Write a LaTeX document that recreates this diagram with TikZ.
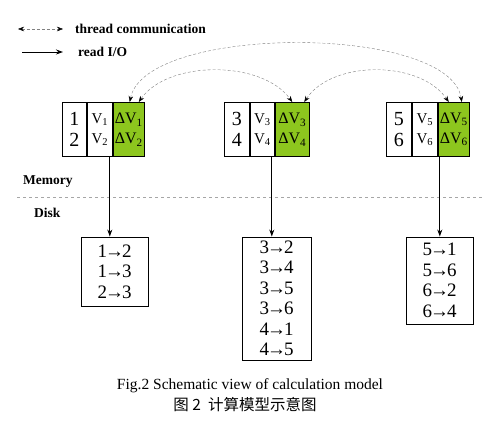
\documentclass[tikz,border=0pt]{standalone}
\usepackage{fontspec}
\setmainfont{Liberation Serif}
\newfontfamily\cjk{Noto Sans CJK SC}
\usetikzlibrary{arrows.meta}
\definecolor{cellgreen}{RGB}{141,198,30}
\newcommand{\fsz}[2]{\fontsize{#1}{#2}\selectfont}
\newcommand{\edgeto}[2]{#1\kern-2pt→\kern-2pt#2}
\tikzstyle{cell} = [draw, line width=0.9pt, minimum height=54, inner sep=0pt, align=center]
\tikzstyle{diskbox} = [draw, line width=0.9pt, inner sep=0pt, align=center, font=\fsz{19}{20.5}]
\tikzstyle{readio} = [line width=0.9pt, -{Stealth[length=7pt,width=5pt]}]
\tikzstyle{comm} = [gray, densely dashed, {Stealth[black,length=6pt,width=4.5pt]}-{Stealth[black,length=6pt,width=4.5pt]}]
\tikzstyle{lbl} = [anchor=west, inner sep=0pt, font=\fsz{13.5}{14}\bfseries]

\begin{document}
\begin{tikzpicture}[x=1pt, y=-1pt]

        \useasboundingbox (0,0) rectangle (493,435);

        % Legend: thread communication
        \coordinate (tc1) at (18,29);
        \coordinate (tc2) at (63,29);
        \draw[comm] (tc1) -- (tc2);
        \node[lbl] (tclab) at (75,29) {thread communication};

        % Legend: read I/O
        \coordinate (io1) at (22,52);
        \coordinate (io2) at (63,52);
        \draw[readio] (io1) -- (io2);
        \node[lbl] (iolab) at (78,52) {read I/O};

        % Memory block of thread 1
        \node[cell, minimum width=24, anchor=north west, font=\fsz{20}{21}] (n1) at (62,102) {1\\2};
        \node[cell, minimum width=25, anchor=west, font=\fsz{15}{20}] (v1) at (n1.east) {V\textsubscript{1}\\V\textsubscript{2}};
        \node[cell, minimum width=31, anchor=west, fill=cellgreen, font=\fsz{16}{20}] (g1) at (v1.east) {ΔV\textsubscript{1}\\ΔV\textsubscript{2}};

        % Memory block of thread 2
        \node[cell, minimum width=25, anchor=north west, font=\fsz{20}{21}] (n2) at (224,102) {3\\4};
        \node[cell, minimum width=24, anchor=west, font=\fsz{15}{20}] (v2) at (n2.east) {V\textsubscript{3}\\V\textsubscript{4}};
        \node[cell, minimum width=34, anchor=west, fill=cellgreen, font=\fsz{16}{20}] (g2) at (v2.east) {ΔV\textsubscript{3}\\ΔV\textsubscript{4}};

        % Memory block of thread 3
        \node[cell, minimum width=25, anchor=north west, font=\fsz{20}{21}] (n3) at (386,102) {5\\6};
        \node[cell, minimum width=25, anchor=west, font=\fsz{15}{20}] (v3) at (n3.east) {V\textsubscript{5}\\V\textsubscript{6}};
        \node[cell, minimum width=31, anchor=west, fill=cellgreen, font=\fsz{16}{20}] (g3) at (v3.east) {ΔV\textsubscript{5}\\ΔV\textsubscript{6}};

        % Thread communication between the delta cells
        \draw[comm] ([xshift=1pt]g1.north) .. controls (145,24) and (450,24) .. ([xshift=8pt]g3.north);   % 1 <-> 3
        \draw[comm] ([xshift=10pt]g1.north) .. controls (168,60) and (262,60) .. (g2.north);            % 1 <-> 2
        \draw[comm] ([xshift=12pt]g2.north) .. controls (332,60) and (420,60) .. ([xshift=-5pt]g3.north); % 2 <-> 3

        % Memory / Disk separation
        \node[lbl] (mem) at (23,182) {Memory};
        \node[lbl] (disk) at (34,213) {Disk};
        \coordinate (sep1) at (17,197);
        \coordinate (sep2) at (482,197);
        \draw[gray!70, dashed] (sep1) -- (sep2);

        % Edge lists on disk
        \node[diskbox, minimum width=67, minimum height=69] (d1) at (114.5,271.5)
            {\edgeto12\\\edgeto13\\\edgeto23};
        \node[diskbox, minimum width=69, minimum height=123] (d2) at (276.5,298.5)
            {\edgeto32\\\edgeto34\\\edgeto35\\\edgeto36\\\edgeto41\\\edgeto45};
        \node[diskbox, minimum width=67, minimum height=87] (d3) at (439.5,280.5)
            {\edgeto51\\\edgeto56\\\edgeto62\\\edgeto64};

        % read I/O from disk to memory blocks
        \draw[readio] ([xshift=-3pt]v1.south east) -- ([xshift=-3pt]v1.south east |- d1.north);
        \draw[readio] ([xshift=-3pt]v2.south east) -- ([xshift=-3pt]v2.south east |- d2.north);
        \draw[readio] ([xshift=2pt]v3.south east) -- ([xshift=2pt]v3.south east |- d3.north);

        % Caption
        \node[font=\fsz{15.5}{16}] (cap1) at (250,386) {Fig.2 Schematic view of calculation model};
        \node[font=\fsz{15.5}{16}\cjk] (cap2) at (245,405) {图 2\ \ 计算模型示意图};

\end{tikzpicture}
\end{document}
